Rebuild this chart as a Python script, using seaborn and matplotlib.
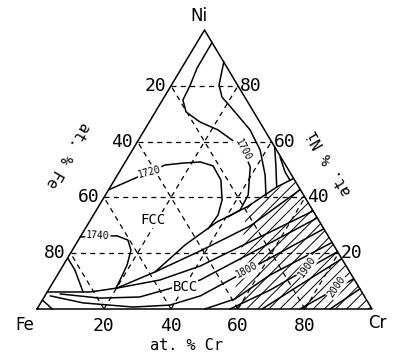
"""Diagrama ternário Fe-Ni-Cr: isotermas liquidus (FCC / BCC)."""
import matplotlib
matplotlib.use('Agg')
import matplotlib.pyplot as plt
from matplotlib.patches import Polygon
import numpy as np
import pandas as pd
import seaborn as sns

# composições: (at.% Cr, at.% Ni)
iso_1700 = [(4.5, 95.5), (4.6, 86.4), (5.6, 80.3), (6.1, 74.9), (9.2, 70.6),
            (15.2, 67.0), (21.9, 64.2), (27.9, 60.6), (33.0, 57.0), (38.2, 50.9),
            (42.6, 40.9), (42.9, 35.5), (40.5, 33.0)]
iso_1720 = [(0, 42.7), (6.4, 47.3), (9.1, 49.1), (12.4, 51.6), (17.4, 52.3),
            (22.4, 52.7), (26.9, 51.3), (31.8, 46.2), (35.7, 39.1), (37.2, 33.7),
            (36.7, 28.7)]
iso_1740 = [(0, 25.8), (5.1, 26.2), (10.8, 26.2), (14.8, 24.7), (17.5, 21.1),
            (19.0, 15.8), (19.6, 10.4), (19.8, 7.5)]
iso_1760 = [(0, 18.3), (4.3, 14.0), (8.1, 9.3), (10.7, 6.1)]
iso_fe = [(0, 3.2), (2.6, 1.4), (4.5, 0)]
iso_ni_1 = [(11.5, 88.5), (14.2, 80.3), (17.2, 76.0), (23.8, 70.6), (31.5, 64.2),
            (38.1, 57.0), (44.1, 48.0), (48.1, 40.5)]
iso_ni_2 = [(41.9, 58.1), (45.5, 51.6), (49.7, 43.7)]
iso_ni_3 = [(45.3, 54.5), (49.5, 49.1), (52.4, 46.2)]

# linhas de fronteira FCC/BCC
fronteira = [(0, 6.1), (12.8, 6.1), (20.1, 7.5), (28.6, 13.3), (38.3, 20.8),
             (48.7, 29.7), (57.2, 42.8)]
fronteira_sup = [(28.6, 13.3), (32.7, 22.9), (38.1, 31.2), (44.4, 36.6),
                 (49.7, 43.7), (53.2, 46.8)]

# isotermas da região BCC
bcc_a = [(20.1, 7.5), (31.5, 10.4), (41.0, 15.4), (55.8, 27.6), (64.8, 35.1)]
bcc_b = [(4.2, 5.4), (16.8, 3.9), (28.5, 4.3), (43.5, 10.4), (57.8, 23.7),
         (67.3, 32.6)]
iso_1800 = [(1.6, 4.7), (12.6, 2.2), (28.3, 0.7), (39.0, 1.4), (46.4, 4.7),
            (55.8, 13.7), (60.5, 18.3), (71.2, 28.7)]
bcc_c = [(50.1, 0), (57.3, 3.6), (63.5, 12.2), (76.1, 23.8)]
iso_1900 = [(57.6, 0), (66.2, 6.8), (72.0, 12.9), (79.4, 20.5)]
bcc_d = [(67.2, 0), (74.2, 8.6), (81.9, 17.9)]
iso_2000 = [(78.5, 0), (84.5, 6.1), (89.1, 10.8)]
bcc_e = [(87.5, 0), (92.8, 7.2)]

# área hachurada
area_hachura = [(53.2, 46.8), (44.4, 36.6), (51.8, 17.6), (58.2, 0), (100, 0)]

# rótulos das isotermas: texto, (Cr, Ni), rotação
rotulos_iso = [('1700', (33.0, 57.0), -62), ('1720', (9.1, 49.1), 15),
               ('1740', (5.1, 26.2), -3), ('1800', (55.7, 14.0), 28),
               ('1900', (73.1, 15.1), 55), ('2000', (85.6, 7.9), 55)]
rotulos_fase = [('FCC', (18.6, 31.9)), ('BCC', (40.3, 7.9))]
ticks = [20, 40, 60, 80]


def para_xy(cr, ni):
    """converte composição (at.%) em coordenadas cartesianas do triângulo."""
    cr = np.asarray(cr, dtype=float)
    ni = np.asarray(ni, dtype=float)
    return (cr + ni / 2) / 100, ni / 100


def montar_tabela(curvas):
    """monta a tabela longa usada pelo seaborn."""
    linhas = []
    for nome, pts in curvas.items():
        cr, ni = zip(*pts)
        x, y = para_xy(cr, ni)
        for i, (xi, yi) in enumerate(zip(x, y)):
            linhas.append({'curva': nome, 'ordem': i, 'x': xi, 'y': yi})
    return pd.DataFrame(linhas)


sns.set_style('white')
plt.rcParams['font.family'] = ['DejaVu Sans Mono', 'DejaVu Sans']
plt.rcParams['text.color'] = 'black'
plt.rcParams['hatch.linewidth'] = 0.7

fig = plt.figure(figsize=(3.94, 3.56), dpi=100)
ax = fig.add_axes([0, 0, 1, 1])
ax.set_xlim(-37 / 335, 357 / 335)
ax.set_ylim(-47 / 279, 309 / 279)
ax.axis('off')

# grade tracejada de 20 em 20 %
grade = {}
for v in ticks:
    grade[f'ni{v}'] = [(0, v), (100 - v, v)]
    grade[f'cr{v}'] = [(v, 0), (v, 100 - v)]
    grade[f'fe{v}'] = [(100 - v, 0), (0, 100 - v)]
sns.lineplot(data=montar_tabela(grade), x='x', y='y', units='curva',
             estimator=None, sort=False, color='black', linewidth=0.9,
             linestyle=(0, (4, 3.5)), legend=False, ax=ax)

# hachura da região rica em Cr
hx, hy = para_xy(*zip(*area_hachura))
ax.add_patch(Polygon(np.column_stack([hx, hy]), closed=True, fill=False,
                     hatch='///', edgecolor='black', linewidth=0, zorder=1))

# triângulo
borda = {'borda': [(0, 0), (100, 0), (0, 100), (0, 0)]}
sns.lineplot(data=montar_tabela(borda), x='x', y='y', units='curva',
             estimator=None, sort=False, color='black', linewidth=1.1,
             legend=False, ax=ax)

curvas = {'1700': iso_1700, '1720': iso_1720, '1740': iso_1740,
          '1760': iso_1760, 'fe': iso_fe, 'ni1': iso_ni_1, 'ni2': iso_ni_2,
          'ni3': iso_ni_3, 'front': fronteira, 'front_sup': fronteira_sup,
          'a': bcc_a, 'b': bcc_b, '1800': iso_1800, 'c': bcc_c,
          '1900': iso_1900, 'd': bcc_d, '2000': iso_2000, 'e': bcc_e}
sns.lineplot(data=montar_tabela(curvas), x='x', y='y', units='curva',
             estimator=None, sort=False, color='black', linewidth=1.1,
             legend=False, ax=ax)

# rótulos das isotermas (fundo branco abre o espaço na linha)
for texto, (cr, ni), rot in rotulos_iso:
    x, y = para_xy(cr, ni)
    ax.text(x, y, texto, fontsize=7, rotation=rot, rotation_mode='anchor',
            ha='center', va='center', zorder=5,
            bbox=dict(facecolor='white', edgecolor='none', pad=0.6))

for texto, (cr, ni) in rotulos_fase:
    x, y = para_xy(cr, ni)
    ax.text(x, y, texto, fontsize=10, ha='center', va='center', zorder=5,
            bbox=dict(facecolor='white', edgecolor='none', pad=0.5))

# números dos eixos
for v in ticks:
    x, y = para_xy(0, 100 - v)
    ax.annotate(str(v), (x, y), xytext=(-3.5, 0), textcoords='offset points',
                ha='right', va='center', fontsize=13)
    x, y = para_xy(100 - v, v)
    ax.annotate(str(v), (x, y), xytext=(1.5, 0), textcoords='offset points',
                ha='left', va='center', fontsize=13)
    x, y = para_xy(v, 0)
    ax.annotate(str(v), (x, y), xytext=(0, -5.5), textcoords='offset points',
                ha='center', va='top', fontsize=13)

# vértices
for texto, (cr, ni), desl in [('Fe', (0, 0), (-9, -11.5)),
                              ('Cr', (100, 0), (3.5, -10)),
                              ('Ni', (0, 100), (-4, 10))]:
    x, y = para_xy(cr, ni)
    ax.annotate(texto, (x, y), xytext=desl, textcoords='offset points',
                ha='center', va='center', fontsize=12, family='DejaVu Sans')

# títulos dos lados
fig.text(186 / 394, 1 - 346 / 356, 'at. % Cr', fontsize=11,
         ha='center', va='center')
fig.text(68 / 394, 1 - 155 / 356, 'at. % Fe', fontsize=11, rotation=240,
         ha='center', va='center', rotation_mode='anchor')
fig.text(330 / 394, 1 - 163 / 356, 'at. % Ni', fontsize=11, rotation=120,
         ha='center', va='center', rotation_mode='anchor')

fig.savefig('out.png', dpi=100)
